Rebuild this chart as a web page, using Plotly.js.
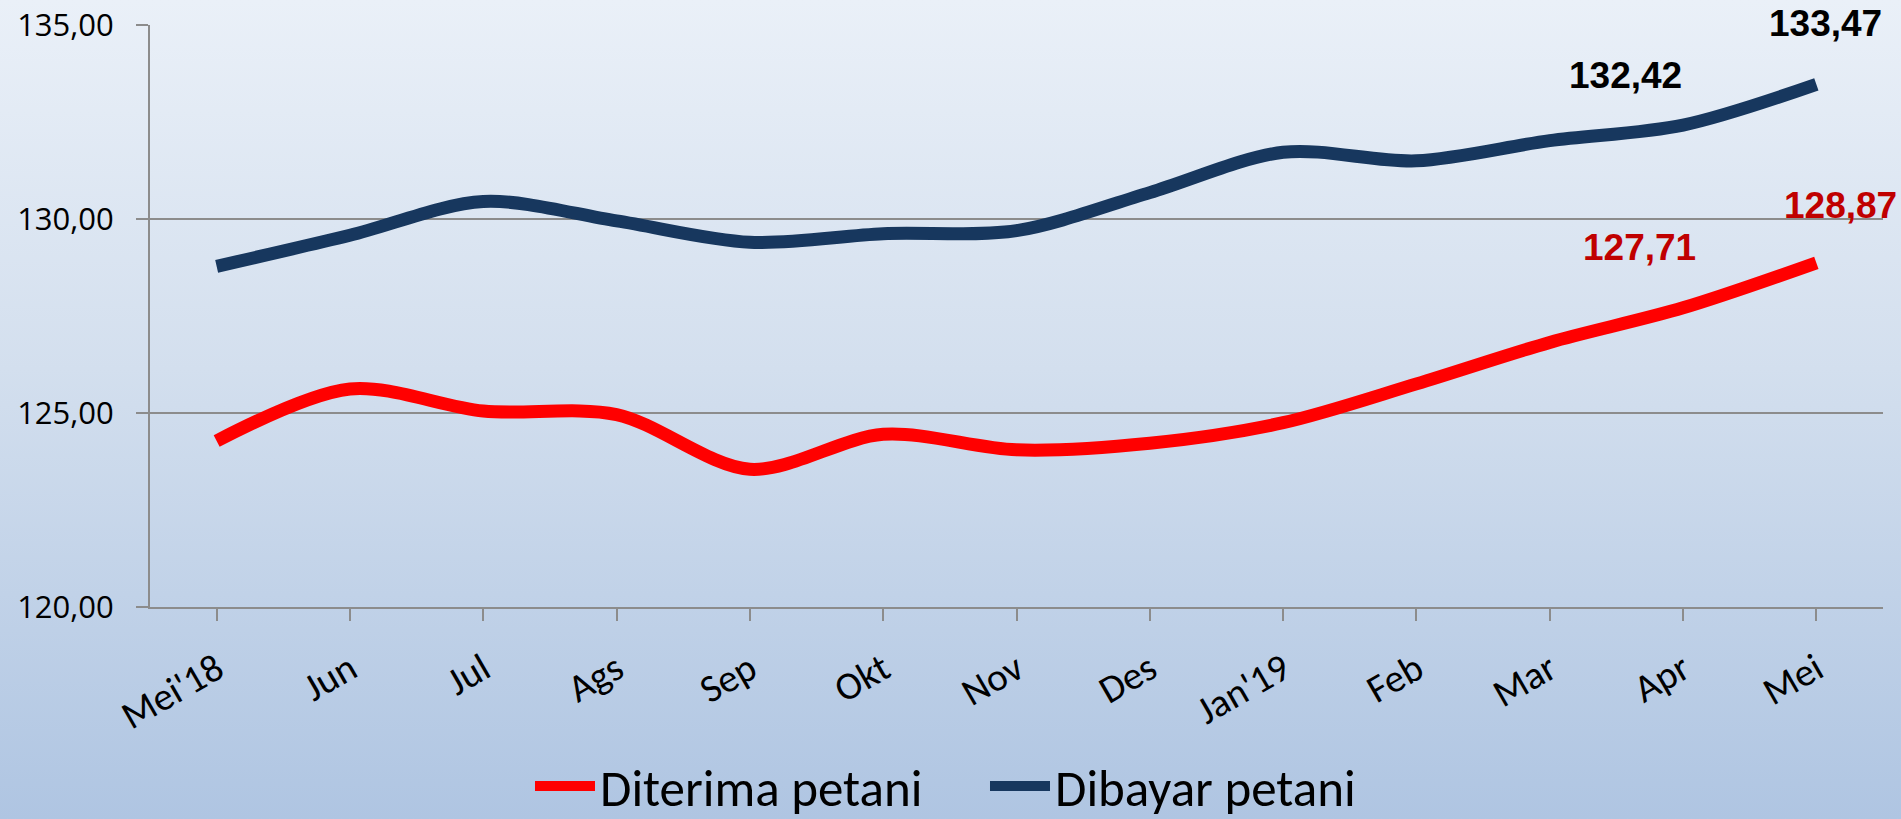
<!DOCTYPE html>
<html>
<head>
<meta charset="utf-8">
<script src="https://cdn.plot.ly/plotly-3.0.1.min.js"></script>
<style>
  html, body { margin: 0; padding: 0; width: 1901px; height: 819px; overflow: hidden; }
  body { background: linear-gradient(to bottom, #eaf0f8 0%, #d3dfee 45%, #afc5e2 100%); }
  #chart { width: 1901px; height: 819px; }
</style>
</head>
<body>
<div id="chart"></div>
<script>
const months = ["Mei'18", "Jun", "Jul", "Ags", "Sep", "Okt", "Nov", "Des", "Jan'19", "Feb", "Mar", "Apr", "Mei"];
const diterima = [124.28, 125.62, 125.05, 124.96, 123.55, 124.45, 124.05, 124.22, 124.75, 125.75, 126.82, 127.71, 128.87];
const dibayar  = [128.78, 129.58, 130.45, 129.95, 129.40, 129.62, 129.70, 130.68, 131.72, 131.50, 132.02, 132.42, 133.47];
const seriesNames = ["Diterima petani", "Dibayar petani"];
const yTicks = [120, 125, 130, 135];

const fmt = v => v.toFixed(2).replace('.', ',');
const xIdx = months.map((m, i) => i);
const textFont = 'Carlito, Calibri, Lato, sans-serif';
const numFont = '"Open Sans", "Noto Sans", sans-serif';

const traces = [
  { x: xIdx, y: diterima, name: seriesNames[0], type: 'scatter', mode: 'lines',
    line: { color: '#ff0000', width: 13, shape: 'spline', smoothing: 0.9 }, hoverinfo: 'skip' },
  { x: xIdx, y: dibayar, name: seriesNames[1], type: 'scatter', mode: 'lines',
    line: { color: '#17375e', width: 13, shape: 'spline', smoothing: 0.9 }, hoverinfo: 'skip' }
];

const lblFont = (c) => ({ family: '"Liberation Sans Narrow", "Arial Narrow", "Liberation Sans", Arial, sans-serif', size: 37, color: c, weight: 700 });
const last = months.length - 1, prev = months.length - 2;
const annotations = [
  { x: prev, y: dibayar[prev], text: '<b>' + fmt(dibayar[prev]) + '</b>', xshift: -58, yshift: 50, font: lblFont('#000000') },
  { x: last, y: dibayar[last], text: '<b>' + fmt(dibayar[last]) + '</b>', xshift: 9, yshift: 61, font: lblFont('#000000') },
  { x: prev, y: diterima[prev], text: '<b>' + fmt(diterima[prev]) + '</b>', xshift: -44, yshift: 60, font: lblFont('#c00000') },
  { x: last, y: diterima[last], text: '<b>' + fmt(diterima[last]) + '</b>', xshift: 24, yshift: 57, font: lblFont('#c00000') }
].map(a => Object.assign({ xref: 'x', yref: 'y', showarrow: false, xanchor: 'center', yanchor: 'middle' }, a));

const layout = {
  width: 1901, height: 819,
  paper_bgcolor: 'rgba(0,0,0,0)', plot_bgcolor: 'rgba(0,0,0,0)',
  separators: ',.',
  margin: { l: 150, r: 18, t: 25, b: 212, autoexpand: false },
  font: { family: textFont, color: '#000000' },
  xaxis: {
    range: [-0.5, months.length - 0.5], automargin: false,
    tickmode: 'array', tickvals: xIdx, ticktext: months,
    tickangle: -30, tickfont: { size: 39, family: textFont },
    ticks: 'outside', ticklen: 12, tickwidth: 2, tickcolor: '#8c8c8c',
    tickson: 'boundaries', ticklabelstandoff: 10,
    showline: true, linecolor: '#8c8c8c', linewidth: 2,
    showgrid: false, zeroline: false, fixedrange: true
  },
  yaxis: {
    range: [120, 135], tickvals: yTicks, tickformat: '.2f', automargin: false,
    tickfont: { size: 31, family: numFont }, ticklabelstandoff: 16,
    ticks: 'outside', ticklen: 12, tickwidth: 2, tickcolor: '#8c8c8c',
    showline: true, linecolor: '#8c8c8c', linewidth: 2,
    showgrid: true, gridcolor: '#8c8c8c', gridwidth: 2,
    zeroline: false, fixedrange: true
  },
  showlegend: true,
  legend: {
    orientation: 'h', xref: 'container', x: 0.2788, xanchor: 'left',
    yref: 'container', y: 0.04, yanchor: 'middle', maxheight: 300,
    font: { size: 51, family: textFont }, itemwidth: 60, entrywidth: 380,
    bgcolor: 'rgba(0,0,0,0)', tracegroupgap: 0
  },
  annotations: annotations
};

Plotly.newPlot('chart', traces, layout, { displayModeBar: false, staticPlot: true });
</script>
</body>
</html>
